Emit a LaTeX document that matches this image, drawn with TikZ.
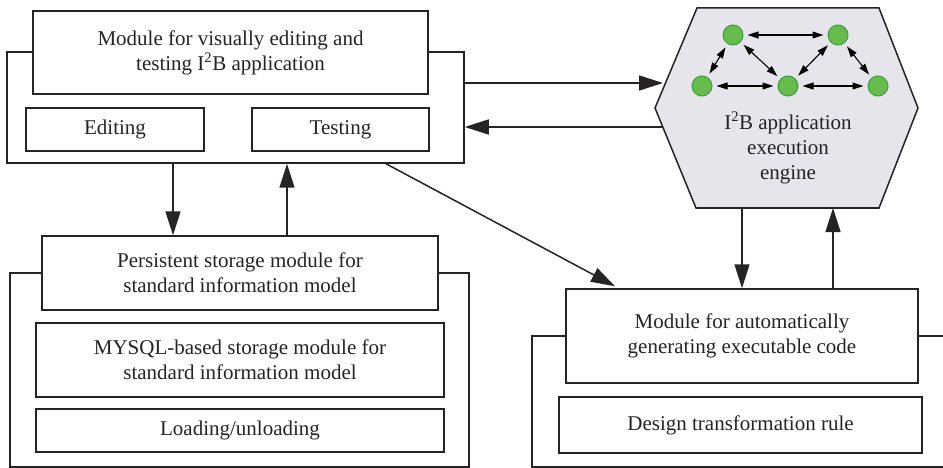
\documentclass[tikz,border=0pt]{standalone}
\usepackage{fontspec}
\setmainfont{Liberation Serif}
\usetikzlibrary{arrows.meta,calc}
\definecolor{ink}{HTML}{262324}
\definecolor{hexfill}{HTML}{E7E5EC}
\definecolor{dotfill}{HTML}{66BB4A}
\definecolor{dotedge}{HTML}{3E9E45}

\tikzset{
  label text/.style={font=\fontsize{21}{25}\selectfont, text=ink, align=center},
  box/.style={draw=ink, line width=1.5pt, fill=white, inner sep=0pt, label text},
  frame/.style={draw=ink, line width=1.5pt},
  bigarrow/.style={draw=ink, line width=1.5pt, -{Triangle[length=24pt,width=15pt]}},
  dot/.style={circle, draw=dotedge, line width=1pt, fill=dotfill, minimum size=20pt, inner sep=0pt},
  link/.style={draw=black, line width=1.1pt, {Triangle[length=11pt,width=7pt]}-{Triangle[length=11pt,width=7pt]}, shorten <=4pt, shorten >=4pt}
}

\begin{document}
\begin{tikzpicture}[x=1pt,y=-1pt]
\useasboundingbox (0,0) rectangle (943,468);

% --- visual editing and testing module ---
\node[box, minimum width=457pt, minimum height=111pt] (visFrame) at (235.5,107.5) {};
\node[box, minimum width=395pt, minimum height=83pt] (visTitle) at (230.5,52.5)
  {Module for visually editing and\\testing I\textsuperscript{2}B application};
\node[box, minimum width=178pt, minimum height=43pt] (editing) at (115,129.5) {Editing};
\node[box, minimum width=177pt, minimum height=43pt] (testing) at (340.5,129.5) {Testing};

% --- persistent storage module ---
\node[box, minimum width=459pt, minimum height=194pt] (persFrame) at (239.5,370) {};
\node[box, minimum width=396pt, minimum height=74pt] (persTitle) at (240,273)
  {Persistent storage module for\\standard information model};
\node[box, minimum width=408pt, minimum height=74pt] (mysql) at (240,360)
  {MYSQL-based storage module for\\standard information model};
\node[box, minimum width=408pt, minimum height=43pt] (loading) at (240,430.5) {Loading/unloading};

% --- executable code generation module ---
\coordinate (autoTR) at (943,336);
\coordinate (autoBR) at (943,467);
\draw[frame] (autoTR) -- (532,336) -- (532,467) -- (autoBR);
\node[box, minimum width=352pt, minimum height=94pt] (autoTitle) at (742,336)
  {Module for automatically\\generating executable code};
\node[box, minimum width=363pt, minimum height=56pt] (design) at (740.5,425)
  {Design transformation rule};

% --- execution engine (hexagon) ---
\draw[draw=ink, line width=1.5pt, fill=hexfill]
  (697,8) -- (879,8) -- (918,108) -- (879,208) -- (696,208) -- (655,108) -- cycle;
\node[label text] (engine) at (788,148)
  {I\textsuperscript{2}B application\\execution\\engine};

\node[dot] (nA) at (733,35) {};
\node[dot] (nB) at (838,35) {};
\node[dot] (nC) at (702,86) {};
\node[dot] (nD) at (788,86) {};
\node[dot] (nE) at (878,86) {};
\draw[link] (nA) -- (nB);
\draw[link] (nA) -- (nC);
\draw[link] (nA) -- (nD);
\draw[link] (nB) -- (nD);
\draw[link] (nB) -- (nE);
\draw[link] (nC) -- (nD);
\draw[link] (nD) -- (nE);

% --- connectors ---
\coordinate (hexIn) at (663,83);
\coordinate (hexOut) at (662,127);
\coordinate (hexDn) at (742,208);
\coordinate (hexUp) at (833,208);
\coordinate (dnX) at (173,0);
\coordinate (upX) at (287,0);
\coordinate (diagS) at (386,0);
\coordinate (diagE) at (615,0);

\draw[bigarrow] (visFrame.east |- hexIn) -- (hexIn);
\draw[bigarrow] (hexOut) -- (visFrame.east |- hexOut);
\draw[bigarrow] (visFrame.south -| dnX) -- (persTitle.north -| dnX);
\draw[bigarrow] (persTitle.north -| upX) -- (visFrame.south -| upX);
\draw[bigarrow] (visFrame.south -| diagS) -- ($(autoTitle.north -| diagE)+(0,-2)$);
\draw[bigarrow] (hexDn) -- (autoTitle.north -| hexDn);
\draw[bigarrow] (autoTitle.north -| hexUp) -- (hexUp);
\end{tikzpicture}
\end{document}
